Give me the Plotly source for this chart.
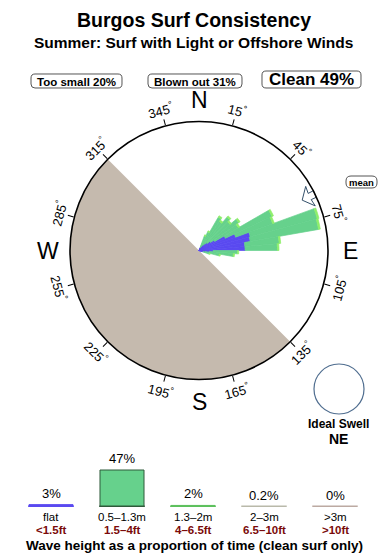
import math
import plotly.graph_objects as go

W, H = 390, 560
FONT = "Liberation Sans, Arial, Helvetica, sans-serif"

# ---------------- data ----------------
title = "Burgos Surf Consistency"
subtitle = "Summer: Surf with Light or Offshore Winds"
summary_labels = ["Too small 20%", "Blown out 31%", "Clean 49%"]

# swell direction bins (centre of 5 degree bins), radial length in % of rose radius
bin_dir = [22.5, 27.5, 32.5, 37.5, 42.5, 47.5, 52.5, 57.5, 62.5, 67.5,
           72.5, 77.5, 82.5, 87.5, 92.5, 97.5, 102.5, 107.5]
bin_width = 5
flat_r = [2.3, 3.1, 4.7, 5.4, 7.0, 8.5, 10.9, 14.0, 22.5, 30.2,
          41.1, 40.3, 35.7, 35.7, 10.9, 7.8, 4.7, 3.1]
mid_r = [9.7, 12.8, 25.1, 22.1, 26.7, 22.9, 26.7, 21.2, 39.9, 30.6,
         53.8, 53.8, 26.7, 25.1, 18.9, 18.9, 11.2, 5.0]
big_r = [1.0, 1.0, 1.3, 1.3, 1.3, 1.3, 1.3, 1.3, 1.3, 1.3,
         1.4, 1.4, 1.2, 1.2, 1.0, 1.0, 1.0, 1.0]

land_dir = 225
land_width = 180
mean_dir = 64

angle_ticks = [15, 45, 75, 105, 135, 165, 195, 225, 255, 285, 315, 345]
compass_names = ["N", "E", "S", "W"]
compass_deg = [0, 90, 180, 270]
ideal_swell = "NE"

height_labels = ["flat", "0.5\u20131.3m", "1.3\u20132m", "2\u20133m", ">3m"]
height_ft = ["<1.5ft", "1.5\u20134ft", "4\u20136.5ft", "6.5\u201310ft", ">10ft"]
height_pct = [3, 47, 2, 0.2, 0]
height_pct_text = ["3%", "47%", "2%", "0.2%", "0%"]

# ---------------- styles ----------------
C_FLAT = "#5a4af0"
C_MID = "#66d18c"
C_BIG = "#8eef6a"
C_LAND = "#c5baae"
leg_fill = [C_FLAT, C_MID, "#5cc05c", "#b9b9aa", "#bcaaa2"]
leg_line = [C_FLAT, "#2f5a3a", "#5cc05c", "#b9b9aa", "#bcaaa2"]

# polar geometry in pixels
CX, CY, R = 199, 250.5, 129
pol_x = [(CX - R) / W, (CX + R) / W]
pol_y = [1 - (CY + R) / H, 1 - (CY - R) / H]


def px(x, y):
    return x / W, 1 - y / H


def polar_to_paper(angle, rad_px):
    a = math.radians(angle)
    return px(CX + rad_px * math.sin(a), CY - rad_px * math.cos(a))


def text_at(x_px, y_px, text, size, color="black", **kw):
    x, y = px(x_px, y_px)
    d = dict(x=x, y=y, xref="paper", yref="paper", text=text, showarrow=False,
             xanchor="center", yanchor="middle", font=dict(size=size, color=color))
    d.update(kw)
    return d


fig = go.Figure()

# land sector
fig.add_trace(go.Barpolar(theta=[land_dir], r=[100], width=[land_width],
                          marker=dict(color=C_LAND, line=dict(width=0)),
                          hoverinfo="skip"))
# rose
for vals, col in [(flat_r, C_FLAT), (mid_r, C_MID), (big_r, C_BIG)]:
    fig.add_trace(go.Barpolar(theta=bin_dir, r=vals, width=[bin_width] * len(bin_dir),
                              marker=dict(color=col, line=dict(width=0.7, color=col)),
                              hoverinfo="skip"))

# mean direction arrow (pointing inward at rim)
arrow_t = [mean_dir, mean_dir - 5, mean_dir - 1.6, mean_dir - 1.6,
           mean_dir + 1.6, mean_dir + 1.6, mean_dir + 5, mean_dir]
arrow_r = [89, 96.5, 95.5, 100, 100, 95.5, 96.5, 89]
fig.add_trace(go.Scatterpolar(theta=arrow_t, r=arrow_r, mode="lines", fill="toself",
                              fillcolor="white", line=dict(color="#34506a", width=1),
                              hoverinfo="skip"))

fig.update_layout(
    polar=dict(
        domain=dict(x=pol_x, y=pol_y),
        bgcolor="white",
        barmode="stack",
        bargap=0,
        radialaxis=dict(visible=False, range=[0, 100]),
        angularaxis=dict(rotation=90, direction="clockwise", showgrid=False,
                         showticklabels=False, ticks="outside", ticklen=6,
                         tickwidth=1, tickcolor="black",
                         tickvals=angle_ticks, linecolor="black", linewidth=1.6),
    )
)

# ---------------- wave-height legend (bar chart) ----------------
base_y = 507
unit_px = 0.787
leg_x0 = 51 - 35.5
fig.update_layout(
    xaxis=dict(domain=[leg_x0 / W, (leg_x0 + 355) / W], range=[-0.5, 4.5], visible=False),
    yaxis=dict(domain=[1 - base_y / H, 1 - (base_y - 60 * unit_px) / H], range=[0, 60],
               visible=False),
)
for i in range(len(height_pct)):
    fig.add_trace(go.Scatter(x=[i - 0.32, i + 0.32], y=[0, 0], mode="lines",
                             line=dict(color=leg_line[i], width=3), cliponaxis=False,
                             hoverinfo="skip"))
fig.add_trace(go.Bar(x=list(range(len(height_pct))), y=height_pct, width=0.62,
                     marker=dict(color=leg_fill, line=dict(color=leg_line, width=1)),
                     cliponaxis=False, hoverinfo="skip"))

ann = []
for i, (p, t) in enumerate(zip(height_pct, height_pct_text)):
    ann.append(dict(x=i, y=p, xref="x", yref="y", text=t, showarrow=False,
                    xanchor="center", yanchor="bottom", yshift=2,
                    font=dict(size=13, color="black")))
    ann.append(dict(x=i, y=1 - 516.5 / H, xref="x", yref="paper", text=height_labels[i],
                    showarrow=False, xanchor="center", yanchor="middle", borderpad=0,
                    font=dict(size=11.5, color="black")))
    ann.append(dict(x=i, y=1 - 530 / H, xref="x", yref="paper", text="<b>%s</b>" % height_ft[i],
                    showarrow=False, xanchor="center", yanchor="middle", borderpad=0,
                    font=dict(size=11.5, color="#7a0a0a")))
ann.append(text_at(194, 545.5, "<b>Wave height as a proportion of time (clean surf only)</b>", 13.5))

# titles
ann.append(text_at(194, 20, "<b>%s</b>" % title, 19.5))
ann.append(text_at(193, 43, "<b>%s</b>" % subtitle, 15.5))

# summary boxes
shapes = []


def rrect(x0, y0, x1, y1, r, color="#555", width=1):
    pts = [
        ("M", [(x0 + r, y0)]), ("L", [(x1 - r, y0)]), ("Q", [(x1, y0), (x1, y0 + r)]),
        ("L", [(x1, y1 - r)]), ("Q", [(x1, y1), (x1 - r, y1)]), ("L", [(x0 + r, y1)]),
        ("Q", [(x0, y1), (x0, y1 - r)]), ("L", [(x0, y0 + r)]), ("Q", [(x0, y0), (x0 + r, y0)]),
    ]
    path = ""
    for cmd, ps in pts:
        path += cmd + " " + " ".join("%.5f,%.5f" % px(a, b) for a, b in ps) + " "
    path += "Z"
    shapes.append(dict(type="path", path=path, xref="paper", yref="paper",
                       line=dict(color=color, width=width), fillcolor="white", layer="below"))


boxes = [(31, 74, 122, 88, 11.5), (148, 74, 242, 88, 11.5), (262, 71, 361, 88, 17)]
for (x0, y0, x1, y1, fs), lab in zip(boxes, summary_labels):
    rrect(x0, y0, x1, y1, 4)
    ann.append(text_at((x0 + x1) / 2, (y0 + y1) / 2 + 0.5, "<b>%s</b>" % lab, fs))

# mean label
rrect(346, 176, 377, 188, 5)
ann.append(text_at(361.5, 182.5, "<b>mean</b>", 9.5))

# angle labels, rotated tangentially
for a in angle_ticks:
    if 90 < a < 270:
        ta = a - 180
    elif a > 270:
        ta = a - 360
    else:
        ta = a
    x, y = polar_to_paper(a, 145)
    ann.append(dict(x=x, y=y, xref="paper", yref="paper", text="%d<sup>\u00b0</sup>" % a,
                    showarrow=False, textangle=ta, xanchor="center", yanchor="middle",
                    font=dict(size=13, color="black")))

# compass letters
for name, a in zip(compass_names, compass_deg):
    x, y = polar_to_paper(a, 151)
    ann.append(dict(x=x, y=y, xref="paper", yref="paper", text=name, showarrow=False,
                    xanchor="center", yanchor="middle", font=dict(size=23, color="black")))

# ideal swell
sx0, sy1 = px(314, 364)
sx1, sy0 = px(364, 414)
shapes.append(dict(type="circle", xref="paper", yref="paper", x0=sx0, x1=sx1, y0=sy0, y1=sy1,
                   line=dict(color="#4f6d8f", width=1.2)))
ann.append(text_at(338, 424, "<b>Ideal Swell</b>", 12))
ann.append(text_at(338, 439, "<b>%s</b>" % ideal_swell, 14))

fig.update_layout(
    width=W, height=H, margin=dict(l=0, r=0, t=0, b=0),
    paper_bgcolor="white", plot_bgcolor="white", showlegend=False,
    font=dict(family=FONT, color="black"),
    annotations=ann, shapes=shapes,
)

fig.write_html("out.html", config={"displayModeBar": False})
